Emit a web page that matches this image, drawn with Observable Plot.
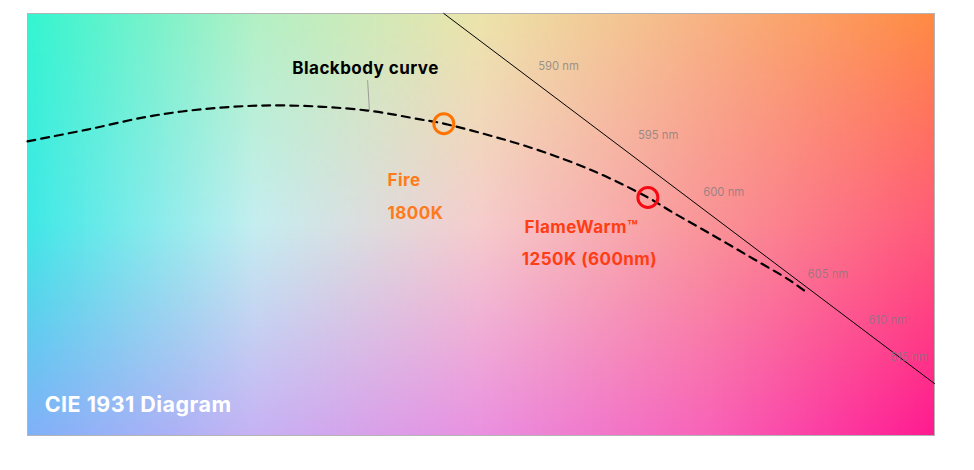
<!DOCTYPE html>
<html>
<head>
<meta charset="utf-8">
<script src="https://cdn.jsdelivr.net/npm/d3@7"></script>
<script src="https://cdn.jsdelivr.net/npm/@observablehq/plot@0.6"></script>
<style>
  html, body { margin: 0; padding: 0; background: #ffffff; }
  #chart { width: 974px; height: 470px; }
</style>
</head>
<body>
<div id="chart"></div>
<script>
// Panel coordinates: x and y in percent of the diagram panel (y grows downward)

// Background colour control grid (CIE-like gradient)
const gridX = [0, 25, 50, 75, 100];
const gridY = [0, 50, 100];
const gridTop    = ["#33f5d0", "#b2f0c4", "#ece4aa", "#f8b282", "#ff8a42"];
const gridMiddle = ["#3ee8e6", "#c4eef0", "#f6cccc", "#f99498", "#ff5a78"];
const gridBottom = ["#80b0f8", "#c6b2f4", "#ea90e0", "#f862b8", "#ff1a90"];

// Blackbody (Planckian) curve
const bbX = [0, 6.6, 13.9, 21.3, 28.7, 37.5, 43.3, 45.9, 55.5, 62.8, 68.4, 71.2, 75.6, 80.0, 84.1, 85.9];
const bbY = [30.3, 27.5, 24.2, 22.3, 21.8, 23.0, 25.1, 26.1, 31.8, 37.7, 43.6, 47.2, 52.6, 58.1, 63.3, 66.1];

// Spectral locus segment
const locusX = [45.9, 100];
const locusY = [0, 87.7];

// Wavelength tick labels
const nmLabels = ["590 nm", "595 nm", "600 nm", "605 nm", "610 nm", "615 nm"];
const nmX = [56.3, 67.3, 74.5, 86.0, 92.7, 95.1];
const nmY = [12.6, 28.9, 42.4, 61.8, 72.7, 81.5];

// Highlighted sources
const srcNames = ["Fire", "FlameWarm™"];
const srcX = [45.9, 68.4];
const srcY = [26.1, 43.6];
const srcColor = ["#ff7300", "#f50a14"];

// Source annotation labels
const annText = ["Fire", "1800K", "FlameWarm™", "1250K (600nm)"];
const annX = [39.7, 39.7, 54.8, 54.5];
const annY = [39.6, 47.4, 50.7, 58.3];
const annColor = ["#ff7a1a", "#ff7a1a", "#ff3d14", "#ff3d14"];

// Curve label and leader
const curveLabel = "Blackbody curve";
const curveLabelX = [29.2];
const curveLabelY = [13.0];
const leaderX = [37.5, 37.7];
const leaderY = [15.9, 23.0];

const diagramTitle = "CIE 1931 Diagram";
const titleX = [1.9];
const titleY = [92.7];

// ---- build ----
const rowScales = [gridTop, gridMiddle, gridBottom].map(row =>
  d3.scaleLinear().domain(gridX).range(row).interpolate(d3.interpolateRgb).clamp(true));
function bgColor(x, y) {
  const cols = rowScales.map(s => s(x));
  return d3.scaleLinear().domain(gridY).range(cols).interpolate(d3.interpolateRgb).clamp(true)(y);
}

const bb = bbX.map((x, i) => ({x, y: bbY[i]}));
const locus = locusX.map((x, i) => ({x, y: locusY[i]}));
const nm = nmLabels.map((t, i) => ({t, x: nmX[i], y: nmY[i]}));
const src = srcNames.map((n, i) => ({n, x: srcX[i], y: srcY[i], c: srcColor[i]}));
const ann = annText.map((t, i) => ({t, x: annX[i], y: annY[i], c: annColor[i]}));
const leader = leaderX.map((x, i) => ({x, y: leaderY[i]}));

const font = "Inter, 'DejaVu Sans', sans-serif";

const chart = Plot.plot({
  width: 974,
  height: 470,
  marginLeft: 27,
  marginRight: 40,
  marginTop: 13,
  marginBottom: 35,
  style: {background: "#ffffff", fontFamily: font},
  x: {domain: [0, 100], axis: null},
  y: {domain: [0, 100], reverse: true, axis: null},
  color: {type: "identity"},
  marks: [
    Plot.raster({x1: 0, x2: 100, y1: 0, y2: 100, fill: bgColor, pixelSize: 2, imageRendering: "auto"}),
    Plot.frame({stroke: "#b4b4b4", strokeWidth: 1}),
    Plot.line(locus, {x: "x", y: "y", stroke: "#000", strokeWidth: 1}),
    Plot.line(bb, {x: "x", y: "y", curve: "catmull-rom", stroke: "#000", strokeWidth: 2.2, strokeDasharray: "8,6"}),
    Plot.line(leader, {x: "x", y: "y", stroke: "#8a8a8a", strokeWidth: 0.8}),
    Plot.dot(src, {x: "x", y: "y", r: 10, stroke: "c", strokeWidth: 3, fill: "none"}),
    Plot.text(nm, {x: "x", y: "y", text: "t", textAnchor: "start", fill: "#7c7c7c", fillOpacity: 0.75, fontSize: 11.3, fontFamily: font}),
    Plot.text(ann, {x: "x", y: "y", text: "t", textAnchor: "start", fill: "c", fontSize: 17, fontWeight: 700, fontFamily: font}),
    Plot.text([curveLabel], {x: curveLabelX, y: curveLabelY, text: d => d, textAnchor: "start", fill: "#000", fontSize: 17, fontWeight: 700, fontFamily: font}),
    Plot.text([diagramTitle], {x: titleX, y: titleY, text: d => d, textAnchor: "start", fill: "#ffffff", fontSize: 21.5, fontWeight: 700, fontFamily: font})
  ]
});
// letter spacing for bold labels to mimic the wide geometric face
chart.querySelectorAll("text").forEach(t => {
  const fw = t.closest("[font-weight]");
  if (fw && fw.getAttribute("font-weight") === "700") t.style.letterSpacing = "0.45px";
});
document.getElementById("chart").appendChild(chart);
</script>
</body>
</html>
